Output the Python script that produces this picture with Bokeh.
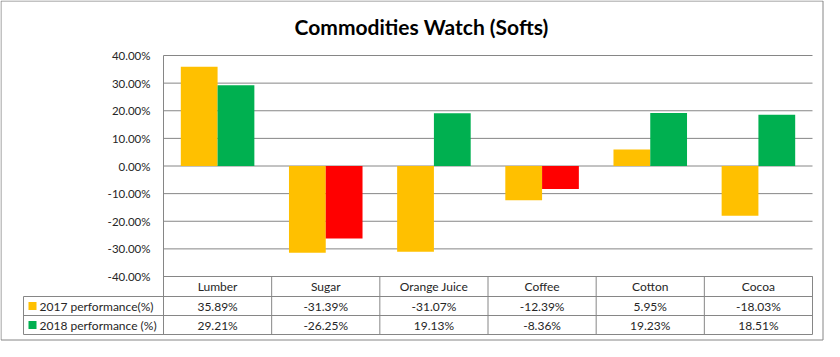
from bokeh.plotting import figure
from bokeh.models import Range1d, ColumnDataSource
from bokeh.core.properties import value
from bokeh.embed import file_html
from bokeh.resources import INLINE

# ---- data ----
categories = ["Lumber", "Sugar", "Orange Juice", "Coffee", "Cotton", "Cocoa"]
perf_2017 = [35.89, -31.39, -31.07, -12.39, 5.95, -18.03]
perf_2018 = [29.21, -26.25, 19.13, -8.36, 19.23, 18.51]
series_names = ["2017 performance(%)", "2018 performance (%)"]
y_ticks = [40, 30, 20, 10, 0, -10, -20, -30, -40]
title_text = "Commodities Watch (Softs)"

# ---- styles / layout ----
ORANGE = "#FFC000"
GREEN = "#00B050"
RED = "#FF0000"
GRID = "#868686"
TXT = "#262626"
FONT = "Lato"

W, H = 824, 341
PL, PR = 163, 812          # plot area left/right (px)
PT, PB = 55, 276           # plot area top/bottom (px) -> 40% / -40%
ROW_H = [20, 19, 19]       # header row, 2017 row, 2018 row
TBL_LEFT = 23
YMAX, YMIN = 40, -40

n = len(categories)
CW = (PR - PL) / n
PPU = (PB - PT) / (YMAX - YMIN)


def dx(px):
    return (px - PL) / CW


def dy(py):
    return YMAX - (py - PT) / PPU


p = figure(width=W, height=H, output_backend="svg", toolbar_location=None,
           x_range=Range1d(dx(0), dx(W)), y_range=Range1d(dy(H), dy(0)),
           min_border=0, outline_line_color=None)
p.axis.visible = False
p.grid.visible = False
p.background_fill_color = "white"
p.border_fill_color = "white"

# outer frame
p.quad(left=[dx(0.5)], right=[dx(W - 1.5)], top=[dy(0.5)], bottom=[dy(H - 1.5)],
       fill_color=None, line_color=GRID, line_width=1)

# title
p.text(x=[dx(421)], y=[dy(26)], text=[title_text], text_font=value(FONT),
       text_font_size="21px", text_font_style="bold", text_color="black",
       text_align="center", text_baseline="middle")

# gridlines
p.segment(x0=[0] * len(y_ticks), x1=[n] * len(y_ticks), y0=y_ticks, y1=y_ticks,
          line_color=GRID, line_width=1)

# y tick labels
p.text(x=[dx(150)] * len(y_ticks), y=y_ticks, text=[f"{t:.2f}%" for t in y_ticks],
       text_font=value(FONT), text_font_size="11.5px", text_color=TXT,
       text_align="right", text_baseline="middle")

# bars
BW = 0.34
xs = [i + 0.5 for i in range(n)]
src17 = ColumnDataSource(dict(x=[x - BW / 2 for x in xs], top=perf_2017))
p.vbar(x="x", top="top", bottom=0, width=BW, source=src17,
       fill_color=ORANGE, line_color=None)
col18 = [GREEN if v >= 0 else RED for v in perf_2018]
src18 = ColumnDataSource(dict(x=[x + BW / 2 for x in xs], top=perf_2018, c=col18))
p.vbar(x="x", top="top", bottom=0, width=BW, source=src18,
       fill_color="c", line_color=None)

# axis line at left
y_tbl = [PB, PB + ROW_H[0], PB + ROW_H[0] + ROW_H[1], PB + sum(ROW_H)]
p.segment(x0=[0], x1=[0], y0=[YMAX], y1=[dy(y_tbl[3])], line_color=GRID)

# data table lines
p.segment(x0=[0], x1=[n], y0=[dy(y_tbl[0])], y1=[dy(y_tbl[0])], line_color=GRID)
for yy in y_tbl[1:]:
    p.segment(x0=[dx(TBL_LEFT)], x1=[n], y0=[dy(yy)], y1=[dy(yy)], line_color=GRID)
p.segment(x0=list(range(1, n + 1)), x1=list(range(1, n + 1)),
          y0=[dy(y_tbl[0])] * n, y1=[dy(y_tbl[3])] * n, line_color=GRID)
p.segment(x0=[dx(TBL_LEFT)], x1=[dx(TBL_LEFT)], y0=[dy(y_tbl[1])], y1=[dy(y_tbl[3])],
          line_color=GRID)

# header row
hy = dy((y_tbl[0] + y_tbl[1]) / 2)
p.text(x=xs, y=[hy] * n, text=categories, text_font=value(FONT),
       text_font_size="12px", text_color=TXT, text_align="center",
       text_baseline="middle")

# value rows
for r, (vals, name, color) in enumerate(zip([perf_2017, perf_2018], series_names,
                                             [ORANGE, GREEN])):
    ry = dy((y_tbl[r + 1] + y_tbl[r + 2]) / 2)
    p.text(x=xs, y=[ry] * n, text=[f"{v:.2f}%" for v in vals], text_font=value(FONT),
           text_font_size="12px", text_color=TXT, text_align="center",
           text_baseline="middle")
    p.scatter(x=[dx(TBL_LEFT + 9)], y=[ry], marker="square", size=8,
              fill_color=color, line_color=None)
    p.text(x=[dx(TBL_LEFT + 16)], y=[ry], text=[name], text_font=value(FONT),
           text_font_size="12px", text_color=TXT, text_align="left",
           text_baseline="middle")

open("out.html", "w").write(file_html(p, INLINE))
